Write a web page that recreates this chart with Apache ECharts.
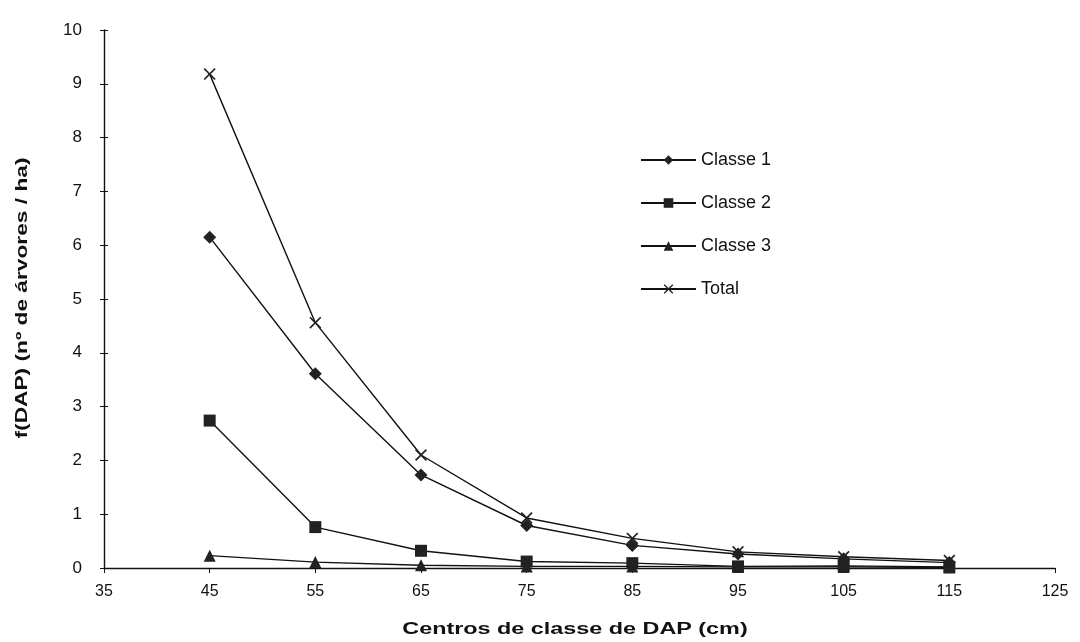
<!DOCTYPE html>
<html>
<head>
<meta charset="utf-8">
<script src="https://cdn.jsdelivr.net/npm/echarts@6/dist/echarts.min.js"></script>
<style>
  html, body { margin: 0; padding: 0; background: #fff; }
  #chart { width: 1080px; height: 642px; }
</style>
</head>
<body>
<div id="chart"></div>
<script>
// Diameter class centres (cm)
const dapCentres = [45, 55, 65, 75, 85, 95, 105, 115];

// Trees per hectare in each DAP class
const classe1 = [6.15, 3.61, 1.73, 0.79, 0.42, 0.26, 0.17, 0.10];
const classe2 = [2.74, 0.76, 0.32, 0.12, 0.09, 0.03, 0.04, 0.02];
const classe3 = [0.23, 0.11, 0.05, 0.03, 0.03, 0.02, 0.02, 0.01];
const total   = [9.18, 4.56, 2.10, 0.93, 0.55, 0.30, 0.21, 0.14];

const seriesNames = ['Classe 1', 'Classe 2', 'Classe 3', 'Total'];
const xTitle = 'Centros de classe de DAP (cm)';
const yTitle = 'f(DAP) (nº de árvores / ha)';

const crossSymbol = 'path://M0,1L1,0L5,4L9,0L10,1L6,5L10,9L9,10L5,6L1,10L0,9L4,5Z';

function pairs(values) {
  return dapCentres.map((x, i) => [x, values[i]]);
}

function lineSeries(name, values, symbol, size) {
  return {
    name: name,
    type: 'line',
    data: pairs(values),
    symbol: symbol,
    symbolSize: size,
    showSymbol: true,
    lineStyle: { color: '#111', width: 1.4 },
    itemStyle: { color: '#222', borderWidth: 0 },
    emphasis: { disabled: true },
    z: 3
  };
}

const chart = echarts.init(document.getElementById('chart'), null, { renderer: 'canvas' });
const font = 'Liberation Sans, Arial, sans-serif';

chart.setOption({
  animation: false,
  backgroundColor: '#fff',
  grid: { left: 104, right: 25, top: 30, bottom: 74, containLabel: false },
  legend: {
    orient: 'vertical',
    left: 640,
    top: 151,
    itemWidth: 55,
    itemHeight: 12,
    itemGap: 25,
    padding: 0,
    data: seriesNames,
    textStyle: { fontFamily: font, fontSize: 18, color: '#111' }
  },
  xAxis: {
    type: 'value',
    min: 35,
    max: 125,
    interval: 10,
    axisLine: { show: true, onZero: false, lineStyle: { color: '#111', width: 1.4 } },
    axisTick: { show: true, length: 5, lineStyle: { color: '#111' } },
    axisLabel: { margin: 16, fontFamily: font, fontSize: 16, color: '#111' },
    splitLine: { show: false }
  },
  yAxis: [
    {
      type: 'value',
      min: 0,
      max: 10,
      interval: 1,
      axisLine: { show: true, lineStyle: { color: '#111', width: 1.4 } },
      axisTick: { show: true, length: 4, lineStyle: { color: '#111' } },
      axisLabel: { margin: 22, fontFamily: font, fontSize: 17, color: '#111' },
      splitLine: { show: false }
    },
    {
      // inner half of the crossing ticks
      type: 'value',
      position: 'left',
      min: 0,
      max: 10,
      interval: 1,
      axisLine: { show: false },
      axisTick: { show: true, inside: true, length: 4, lineStyle: { color: '#111' } },
      axisLabel: { show: false },
      splitLine: { show: false }
    }
  ],
  graphic: [
    {
      type: 'text',
      x: 575,
      y: 630,
      style: {
        text: xTitle,
        fontFamily: font,
        fontSize: 16,
        fontWeight: 'bold',
        fill: '#111',
        align: 'center',
        verticalAlign: 'middle'
      },
      scaleX: 1.46
    },
    {
      type: 'text',
      x: 23,
      y: 298,
      rotation: Math.PI / 2,
      style: {
        text: yTitle,
        fontFamily: font,
        fontSize: 16,
        fontWeight: 'bold',
        fill: '#111',
        align: 'center',
        verticalAlign: 'middle'
      },
      scaleX: 1.42
    }
  ],
  series: [
    lineSeries('Classe 1', classe1, 'diamond', 13),
    lineSeries('Classe 2', classe2, 'rect', 12),
    lineSeries('Classe 3', classe3, 'triangle', 12),
    lineSeries('Total', total, crossSymbol, 12)
  ]
});
</script>
</body>
</html>
